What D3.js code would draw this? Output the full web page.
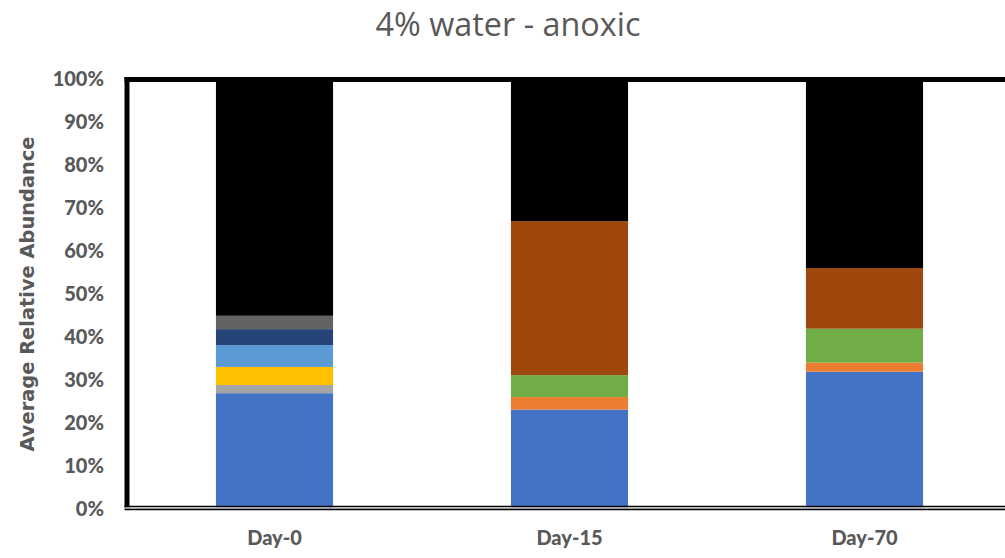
<!DOCTYPE html>
<html>
<head>
<meta charset="utf-8">
<script src="https://cdn.jsdelivr.net/npm/d3@7/dist/d3.min.js"></script>
<style>
  html, body { margin: 0; padding: 0; background: #fff; }
  svg { display: block; }
</style>
</head>
<body>
<svg id="chart" width="1005" height="558"></svg>
<script>
// Sampling days along the x axis
const categories = ["Day-0", "Day-15", "Day-70"];

// Stacked groups, bottom to top, and their fill colours
const seriesNames  = ["Group 1", "Group 2", "Group 3", "Group 4", "Group 5",
                      "Group 6", "Group 7", "Group 8", "Group 9", "Others"];
const seriesColors = ["#4472C4", "#ED7D31", "#A5A5A5", "#FFC000", "#5B9BD5",
                      "#70AD47", "#264478", "#9E480E", "#636363", "#000000"];

// Average relative abundance (%) of each group, one array per day
const day0Values  = [26.7, 0.0, 1.9, 4.2, 5.1, 0.0, 3.7,  0.0, 3.1, 55.3];
const day15Values = [22.9, 2.9, 0.0, 0.0, 0.0, 5.1, 0.0, 35.8, 0.0, 33.3];
const day70Values = [31.7, 2.1, 0.0, 0.0, 0.0, 7.9, 0.0, 14.1, 0.0, 44.2];

// Y axis tick values and labels
const yTicks = [0, 10, 20, 30, 40, 50, 60, 70, 80, 90, 100];
const yTickLabels = yTicks.map(v => v + "%");

const titleText = "4% water - anoxic";
const yTitleText = "Average Relative Abundance";

// Build row objects for d3.stack
const valuesByDay = [day0Values, day15Values, day70Values];
const rows = categories.map((c, i) => {
  const r = { day: c };
  seriesNames.forEach((s, j) => { r[s] = valuesByDay[i][j]; });
  return r;
});

const svg = d3.select("#chart");
const textColor = "#595959";
const labelFont = "Lato, 'Open Sans', sans-serif";

// Scale a text element's font size so that it spans the given width
function fitWidth(sel, width) {
  const node = sel.node();
  const size = parseFloat(sel.style("font-size"));
  const len = node.getComputedTextLength();
  if (len > 0) sel.style("font-size", (size * width / len).toFixed(2) + "px");
  return sel;
}

const plot = { left: 127, right: 1012, top: 78, bottom: 508 };

const x = d3.scaleBand()
  .domain(categories)
  .range([plot.left, plot.right])
  .paddingInner(0.603)
  .paddingOuter(0.3015);

const y = d3.scaleLinear()
  .domain([0, 100])
  .range([plot.bottom, plot.top]);

const color = d3.scaleOrdinal().domain(seriesNames).range(seriesColors);

const stacked = d3.stack().keys(seriesNames)(rows);

// Bars
svg.append("g")
  .selectAll("g")
  .data(stacked)
  .join("g")
    .attr("fill", d => color(d.key))
  .selectAll("rect")
  .data(d => d.filter(p => p[1] - p[0] > 0))
  .join("rect")
    .attr("x", d => x(d.data.day))
    .attr("width", x.bandwidth())
    .attr("y", d => y(d[1]))
    .attr("height", d => y(d[0]) - y(d[1]));

// Plot frame: heavy top and left edges, double rule along the base
const frame = svg.append("g").attr("fill", "none");
frame.append("line")
  .attr("x1", plot.left - 2.5).attr("x2", 1005)
  .attr("y1", plot.top + 1.5).attr("y2", plot.top + 1.5)
  .attr("stroke", "#000").attr("stroke-width", 5);
frame.append("line")
  .attr("x1", plot.left).attr("x2", plot.left)
  .attr("y1", plot.top - 1).attr("y2", plot.bottom)
  .attr("stroke", "#000").attr("stroke-width", 5);
frame.append("line")
  .attr("x1", plot.left - 2.5).attr("x2", 1005)
  .attr("y1", plot.bottom - 1.5).attr("y2", plot.bottom - 1.5)
  .attr("stroke", "#000").attr("stroke-width", 1.5);
frame.append("line")
  .attr("x1", plot.left - 2.5).attr("x2", 1005)
  .attr("y1", plot.bottom).attr("y2", plot.bottom)
  .attr("stroke", "#bfbfbf").attr("stroke-width", 1.5);
frame.append("line")
  .attr("x1", plot.left - 2.5).attr("x2", 1005)
  .attr("y1", plot.bottom + 1.5).attr("y2", plot.bottom + 1.5)
  .attr("stroke", "#000").attr("stroke-width", 1.5);

// Y axis labels
const yAxis = d3.axisLeft(y)
  .tickValues(yTicks)
  .tickFormat((d, i) => yTickLabels[i])
  .tickSize(0)
  .tickPadding(0);
const yg = svg.append("g")
  .attr("transform", `translate(104,0)`)
  .call(yAxis);
yg.select(".domain").remove();
yg.selectAll("text")
  .attr("fill", textColor)
  .attr("dy", "0.36em")
  .style("font-family", labelFont)
  .style("font-weight", "900")
  .style("font-size", "20px");

// X axis labels
const xAxis = d3.axisBottom(x).tickSize(0).tickPadding(0);
const xg = svg.append("g")
  .attr("transform", `translate(0,545)`)
  .call(xAxis);
xg.select(".domain").remove();
xg.selectAll("text")
  .attr("fill", textColor)
  .attr("y", 0)
  .attr("dy", 0)
  .style("font-family", labelFont)
  .style("font-weight", "900")
  .style("font-size", "20px");

// Axis title
const yTitle = svg.append("text")
  .attr("transform", "translate(34,294) rotate(-90)")
  .attr("text-anchor", "middle")
  .attr("fill", textColor)
  .style("font-family", "'DejaVu Sans', sans-serif")
  .style("font-weight", "bold")
  .style("font-size", "18px")
  .text(yTitleText);
fitWidth(yTitle, 315);

// Chart title
const title = svg.append("text")
  .attr("x", 508)
  .attr("y", 36)
  .attr("text-anchor", "middle")
  .attr("fill", textColor)
  .style("font-family", "'Open Sans', sans-serif")
  .style("font-size", "30px")
  .text(titleText);
fitWidth(title, 265);
</script>
</body>
</html>
